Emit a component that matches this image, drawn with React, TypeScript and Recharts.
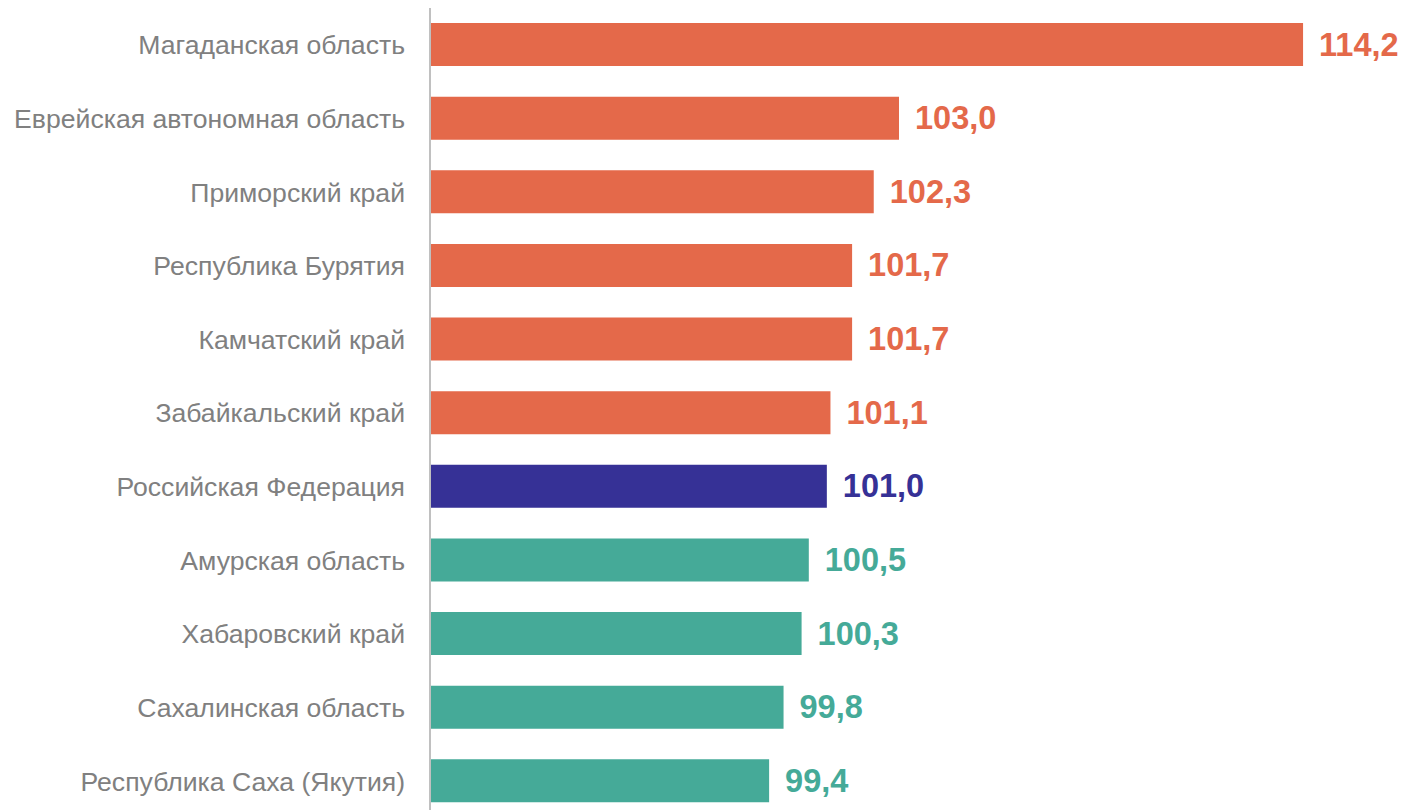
import { BarChart, Bar, XAxis, YAxis, Cell, LabelList } from "recharts";

const regions = [
  "Магаданская область",
  "Еврейская автономная область",
  "Приморский край",
  "Республика Бурятия",
  "Камчатский край",
  "Забайкальский край",
  "Российская Федерация",
  "Амурская область",
  "Хабаровский край",
  "Сахалинская область",
  "Республика Саха (Якутия)",
];

const values = [114.2, 103.0, 102.3, 101.7, 101.7, 101.1, 101.0, 100.5, 100.3, 99.8, 99.4];

// group: "up" above RF, "rf" the federation, "down" below RF
const groups = ["up", "up", "up", "up", "up", "up", "rf", "down", "down", "down", "down"];

const COLORS: Record<string, string> = {
  up: "#E4694A",
  rf: "#363196",
  down: "#45AA98",
};

const data = regions.map((name, i) => ({ name, value: values[i], group: groups[i] }));

const FONT = "'Liberation Sans', Arial, sans-serif";

function fmt(v: number) {
  return v.toFixed(1).replace(".", ",");
}

function ValueLabel(props: any) {
  const { x, y, width, height, value, index } = props;
  const color = COLORS[groups[index]];
  return (
    <text
      x={x + width + 16}
      y={y + height / 2}
      fill={color}
      fontFamily={FONT}
      fontSize={32.5}
      fontWeight="bold"
      dominantBaseline="central"
      textAnchor="start"
    >
      {fmt(value)}
    </text>
  );
}

export default function App() {
  return (
    <BarChart
      width={1399}
      height={810}
      data={data}
      layout="vertical"
      margin={{ top: 0, right: 39, bottom: 0, left: 0 }}
      barSize={43}
    >
      <XAxis type="number" domain={[90, 116]} hide allowDataOverflow />
      <YAxis
        type="category"
        dataKey="name"
        width={422}
        tickLine={false}
        tickSize={0}
        tickMargin={25}
        axisLine={{ stroke: "#C0C0C0", strokeWidth: 2 }}
        tick={{ fontSize: 26.6, fill: "#808080", fontFamily: FONT }}
        interval={0}
      />
      <Bar dataKey="value" isAnimationActive={false}>
        {data.map((d, i) => (
          <Cell key={i} fill={COLORS[d.group]} />
        ))}
        <LabelList dataKey="value" content={ValueLabel} />
      </Bar>
    </BarChart>
  );
}
